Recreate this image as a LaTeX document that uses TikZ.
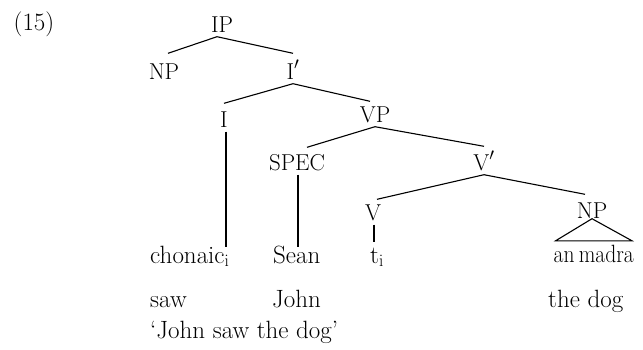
\documentclass[tikz,border=0pt]{standalone}
\begin{document}
\begin{tikzpicture}[x=1pt,y=-1pt,
  cat/.style={font=\fontsize{23}{27}\selectfont, text height=16pt, text depth=0pt,
              inner xsep=0pt, inner ysep=4.5pt},
  word/.style={font=\fontsize{25}{30}\selectfont, anchor=base west, inner sep=0pt,
               text height=16pt},
  branch/.style={line width=1.1pt}]
\useasboundingbox (0,0) rectangle (643,349);

% example number
\node[font=\fontsize{25}{30}\selectfont, inner sep=0pt] (num) at (34,24) {(15)};

% category labels
\node[cat] (IP)   at (222,24)  {IP};
\node[cat] (NPa)  at (164,71)  {NP};
\node[cat] (Ibar) at (293,71)  {I$'$};
\node[cat] (I)    at (224,119) {I};
\node[cat] (VP)   at (375,114) {VP};
\node[cat] (SPEC) at (297,162) {SPEC};
\node[cat] (Vbar) at (484,162) {V$'$};
\node[cat] (V)    at (373,212) {V};
\node[cat] (NPb)  at (592,210) {NP};

% words and glosses
\node[word] (chonaic) at (150,263) {chonaic$_{\mathrm{i}}$};
\node[word] (Sean)    at (273,263) {Sean};
\node[word] (trace)   at (370,263) {t$_{\mathrm{i}}$};
\node[word, anchor=base east, xscale=0.86] (madra) at (634,262) {an\hspace{0.2em}madra};
\node[word] (saw)     at (150,307) {saw};
\node[word] (John)    at (272,307) {John};
\node[word] (dog)     at (548,307) {the dog};
\node[word] (gloss)   at (150,338) {‘John saw the dog’};

% branches
\draw[branch] ([xshift=-5pt]IP.south) -- ([xshift=4pt,yshift=5pt]NPa.north);
\draw[branch] ([xshift=-5pt]IP.south) -- ([yshift=5pt]Ibar.north);
\draw[branch] (Ibar.south) -- ([yshift=3pt]I.north);
\draw[branch] (Ibar.south) -- ([xshift=-5pt]VP.north);
\draw[branch] (VP.south) -- ([xshift=10pt,yshift=2pt]SPEC.north);
\draw[branch] (VP.south) -- ([yshift=3pt]Vbar.north);
\draw[branch] (Vbar.south) -- ([xshift=4pt]V.north);
\draw[branch] (Vbar.south) -- ([xshift=-7pt,yshift=3pt]NPb.north);

% unary branches down to the words
\draw[branch] ([xshift=2pt]I.south) -- ([xshift=2pt]I.south |- chonaic.north);
\draw[branch] ([xshift=1pt]SPEC.south) -- ([xshift=1pt]SPEC.south |- Sean.north);
\draw[branch, shorten >=5pt] ([xshift=1pt]V.south) -- ([xshift=1pt]V.south |- trace.north);

% triangle over the unanalysed NP
\draw[branch, line join=miter] ([yshift=4pt]NPb.south)
  -- ([xshift=2pt,yshift=5pt]madra.north west)
  -- ([xshift=-2pt,yshift=5pt]madra.north east) -- cycle;
\end{tikzpicture}
\end{document}
